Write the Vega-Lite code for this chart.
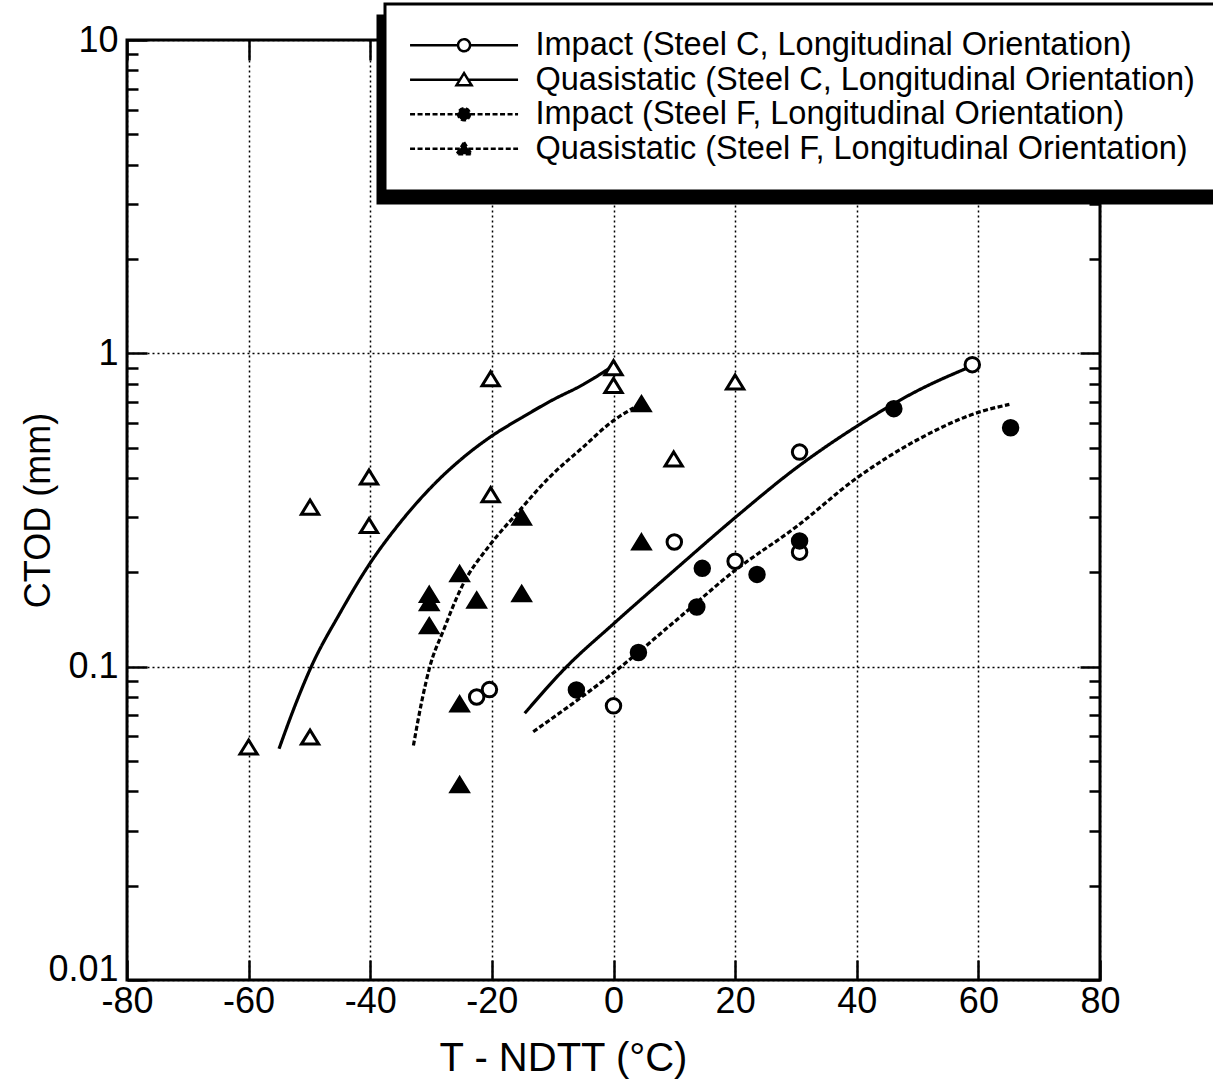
{
  "$schema": "https://vega.github.io/schema/vega-lite/v6.json",
  "width": 973,
  "height": 940,
  "autosize": {"type": "none"},
  "padding": {"left": 127, "top": 40, "right": 113, "bottom": 112},
  "background": "white",
  "config": {
    "view": {"stroke": "black", "strokeWidth": 3},
    "font": "Liberation Sans",
    "legend": {"strokeWidth": 3},
    "axis": {
      "labelFont": "Liberation Sans",
      "titleFont": "Liberation Sans",
      "labelColor": "black",
      "titleColor": "black",
      "tickColor": "black",
      "domain": false,
      "labelFlush": false,
      "labelOverlap": false,
      "titleFontWeight": "normal",
      "tickCap": "butt"
    }
  },
  "datasets": {
    "curves": [
      {"fit": "a", "T": -14.6, "CTOD": 0.071},
      {"fit": "a", "T": -7.7, "CTOD": 0.1},
      {"fit": "a", "T": 0, "CTOD": 0.137},
      {"fit": "a", "T": 10, "CTOD": 0.203},
      {"fit": "a", "T": 20, "CTOD": 0.299},
      {"fit": "a", "T": 30, "CTOD": 0.43},
      {"fit": "a", "T": 40, "CTOD": 0.585},
      {"fit": "a", "T": 50, "CTOD": 0.76},
      {"fit": "a", "T": 59.2, "CTOD": 0.915},
      {"fit": "b", "T": -55, "CTOD": 0.0547},
      {"fit": "b", "T": -52.5, "CTOD": 0.074},
      {"fit": "b", "T": -49.7, "CTOD": 0.1},
      {"fit": "b", "T": -45, "CTOD": 0.148},
      {"fit": "b", "T": -40.3, "CTOD": 0.21},
      {"fit": "b", "T": -35.1, "CTOD": 0.288},
      {"fit": "b", "T": -29.1, "CTOD": 0.389},
      {"fit": "b", "T": -25, "CTOD": 0.46},
      {"fit": "b", "T": -20.3, "CTOD": 0.54},
      {"fit": "b", "T": -15, "CTOD": 0.625},
      {"fit": "b", "T": -10, "CTOD": 0.71},
      {"fit": "b", "T": -5, "CTOD": 0.795},
      {"fit": "b", "T": -0.5, "CTOD": 0.90},
      {"fit": "c", "T": -13.2, "CTOD": 0.062},
      {"fit": "c", "T": -0.2, "CTOD": 0.095},
      {"fit": "c", "T": 10, "CTOD": 0.139},
      {"fit": "c", "T": 20, "CTOD": 0.203},
      {"fit": "c", "T": 30, "CTOD": 0.279},
      {"fit": "c", "T": 40, "CTOD": 0.40},
      {"fit": "c", "T": 50, "CTOD": 0.53},
      {"fit": "c", "T": 60.2, "CTOD": 0.65},
      {"fit": "c", "T": 65.1, "CTOD": 0.687},
      {"fit": "d", "T": -32.9, "CTOD": 0.056},
      {"fit": "d", "T": -31.5, "CTOD": 0.078},
      {"fit": "d", "T": -30.2, "CTOD": 0.1},
      {"fit": "d", "T": -28, "CTOD": 0.13},
      {"fit": "d", "T": -25, "CTOD": 0.179},
      {"fit": "d", "T": -20.3, "CTOD": 0.245},
      {"fit": "d", "T": -15.9, "CTOD": 0.308},
      {"fit": "d", "T": -10.5, "CTOD": 0.403},
      {"fit": "d", "T": -5, "CTOD": 0.502},
      {"fit": "d", "T": -0.3, "CTOD": 0.604},
      {"fit": "d", "T": 3.3, "CTOD": 0.67}
    ],
    "points": [
      {"series": "Quasistatic (Steel C, Longitudinal Orientation)", "T": -60, "CTOD": 0.0554},
      {"series": "Quasistatic (Steel C, Longitudinal Orientation)", "T": -49.9, "CTOD": 0.0596},
      {"series": "Quasistatic (Steel C, Longitudinal Orientation)", "T": -49.9, "CTOD": 0.323},
      {"series": "Quasistatic (Steel C, Longitudinal Orientation)", "T": -40.2, "CTOD": 0.403},
      {"series": "Quasistatic (Steel C, Longitudinal Orientation)", "T": -40.2, "CTOD": 0.282},
      {"series": "Quasistatic (Steel C, Longitudinal Orientation)", "T": -20.2, "CTOD": 0.83},
      {"series": "Quasistatic (Steel C, Longitudinal Orientation)", "T": -20.2, "CTOD": 0.354},
      {"series": "Quasistatic (Steel C, Longitudinal Orientation)", "T": 0, "CTOD": 0.90},
      {"series": "Quasistatic (Steel C, Longitudinal Orientation)", "T": 0, "CTOD": 0.79},
      {"series": "Quasistatic (Steel C, Longitudinal Orientation)", "T": 9.9, "CTOD": 0.46},
      {"series": "Quasistatic (Steel C, Longitudinal Orientation)", "T": 20, "CTOD": 0.81},
      {"series": "Quasistatic (Steel F, Longitudinal Orientation)", "T": -30.3, "CTOD": 0.17},
      {"series": "Quasistatic (Steel F, Longitudinal Orientation)", "T": -30.3, "CTOD": 0.16},
      {"series": "Quasistatic (Steel F, Longitudinal Orientation)", "T": -30.3, "CTOD": 0.135},
      {"series": "Quasistatic (Steel F, Longitudinal Orientation)", "T": -25.3, "CTOD": 0.198},
      {"series": "Quasistatic (Steel F, Longitudinal Orientation)", "T": -25.3, "CTOD": 0.076},
      {"series": "Quasistatic (Steel F, Longitudinal Orientation)", "T": -25.3, "CTOD": 0.042},
      {"series": "Quasistatic (Steel F, Longitudinal Orientation)", "T": -22.5, "CTOD": 0.163},
      {"series": "Quasistatic (Steel F, Longitudinal Orientation)", "T": -15.1, "CTOD": 0.30},
      {"series": "Quasistatic (Steel F, Longitudinal Orientation)", "T": -15.1, "CTOD": 0.171},
      {"series": "Quasistatic (Steel F, Longitudinal Orientation)", "T": 4.6, "CTOD": 0.69},
      {"series": "Quasistatic (Steel F, Longitudinal Orientation)", "T": 4.6, "CTOD": 0.25},
      {"series": "Impact (Steel C, Longitudinal Orientation)", "T": -22.5, "CTOD": 0.080},
      {"series": "Impact (Steel C, Longitudinal Orientation)", "T": -20.4, "CTOD": 0.0845},
      {"series": "Impact (Steel C, Longitudinal Orientation)", "T": 0, "CTOD": 0.075},
      {"series": "Impact (Steel C, Longitudinal Orientation)", "T": 10, "CTOD": 0.25},
      {"series": "Impact (Steel C, Longitudinal Orientation)", "T": 20, "CTOD": 0.217},
      {"series": "Impact (Steel C, Longitudinal Orientation)", "T": 30.6, "CTOD": 0.484},
      {"series": "Impact (Steel C, Longitudinal Orientation)", "T": 30.6, "CTOD": 0.232},
      {"series": "Impact (Steel C, Longitudinal Orientation)", "T": 59, "CTOD": 0.92},
      {"series": "Impact (Steel F, Longitudinal Orientation)", "T": -6.1, "CTOD": 0.0843},
      {"series": "Impact (Steel F, Longitudinal Orientation)", "T": 4.1, "CTOD": 0.111},
      {"series": "Impact (Steel F, Longitudinal Orientation)", "T": 13.7, "CTOD": 0.155},
      {"series": "Impact (Steel F, Longitudinal Orientation)", "T": 14.6, "CTOD": 0.206},
      {"series": "Impact (Steel F, Longitudinal Orientation)", "T": 23.6, "CTOD": 0.197},
      {"series": "Impact (Steel F, Longitudinal Orientation)", "T": 30.6, "CTOD": 0.252},
      {"series": "Impact (Steel F, Longitudinal Orientation)", "T": 46.1, "CTOD": 0.666},
      {"series": "Impact (Steel F, Longitudinal Orientation)", "T": 65.3, "CTOD": 0.579}
    ]
  },
  "layer": [
    {
      "data": {"name": "curves"},
      "mark": {"type": "line", "color": "black", "strokeWidth": 3.2, "interpolate": "monotone"},
      "encoding": {
        "x": {
          "field": "T", "type": "quantitative",
          "scale": {"domain": [-80, 80], "nice": false, "zero": false},
          "axis": {
            "orient": "bottom",
            "values": [-80, -60, -40, -20, 0, 20, 40, 60, 80],
            "labelExpr": "'' + datum.value",
            "title": "T - NDTT (°C)",
            "titleFontSize": 40,
            "titleX": 436,
            "titleY": 90,
            "titleBaseline": "alphabetic",
            "labelFontSize": 36,
            "labelPadding": 24,
            "tickSize": -20,
            "tickWidth": 2.5,
            "grid": true,
            "gridColor": "black",
            "gridDash": [2, 3],
            "gridWidth": 1.5
          }
        },
        "y": {
          "field": "CTOD", "type": "quantitative",
          "scale": {"type": "log", "domain": [0.01, 10], "nice": false},
          "axis": {
            "orient": "left",
            "values": [0.01, 0.02, 0.03, 0.04, 0.05, 0.06, 0.07, 0.08, 0.09, 0.1, 0.2, 0.3, 0.4, 0.5, 0.6, 0.7, 0.8, 0.9, 1, 2, 3, 4, 5, 6, 7, 8, 9, 10],
            "labelExpr": "datum.value == 10 ? '10' : datum.value == 1 ? '1' : datum.value == 0.1 ? '0.1' : datum.value == 0.01 ? '0.01' : ''",
            "title": "CTOD (mm)",
            "titleFontSize": 36,
            "titleX": -78,
            "titleY": 470,
            "titleBaseline": "alphabetic",
            "labelFontSize": 36,
            "labelPadding": 29,
            "labelBaseline": {"condition": {"test": "datum.value == 0.01", "value": "alphabetic"}, "value": "middle"},
            "tickSize": {"condition": {"test": "datum.value == 10 || datum.value == 1 || datum.value == 0.1 || datum.value == 0.01", "value": -20}, "value": -11},
            "tickWidth": 2.5,
            "grid": true,
            "gridColor": "black",
            "gridDash": [2, 3],
            "gridWidth": 1.5,
            "gridOpacity": {"condition": {"test": "datum.value == 10 || datum.value == 1 || datum.value == 0.1 || datum.value == 0.01", "value": 1}, "value": 0}
          }
        },
        "strokeDash": {
          "field": "fit", "type": "nominal",
          "scale": {"range": [[1, 0], [1, 0], [5, 2.5], [5, 2.5]]},
          "legend": {
            "orient": "none",
            "legendX": 258,
            "legendY": -36,
            "title": null,
            "padding": 25,
            "labelFont": "Liberation Sans",
            "labelFontSize": 32.5,
            "labelColor": "black",
            "labelOffset": 93,
            "labelLimit": 0,
            "labelExpr": "datum.value == 'a' ? 'Impact (Steel C, Longitudinal Orientation)' : datum.value == 'b' ? 'Quasistatic (Steel C, Longitudinal Orientation)' : datum.value == 'c' ? 'Impact (Steel F, Longitudinal Orientation)' : 'Quasistatic (Steel F, Longitudinal Orientation)'",
            "symbolSize": 144,
            "symbolStrokeWidth": 2.5,
            "symbolStrokeColor": "black",
            "symbolType": {"expr": "(datum.value == 'a' || datum.value == 'c') ? 'M-2.7,0H5.3M7.3,0H15.3M7.3,0A1,1,0,1,1,5.3,0A1,1,0,1,1,7.3,0Z' : 'M-2.7,0H5.6M7,0H15.3M6.3,-1.1L7.55,0.9L5.05,0.9Z'"},
            "symbolFillColor": {"expr": "(datum.value == 'c' || datum.value == 'd') ? 'black' : 'white'"},
            "rowPadding": 1.5,
            "fillColor": "white",
            "strokeColor": "black",
            "zindex": 2
          }
        }
      }
    },
    {
      "data": {"name": "points"},
      "mark": {"type": "point", "stroke": "black", "strokeWidth": 3, "size": 210, "opacity": 1},
      "encoding": {
        "x": {
          "field": "T", "type": "quantitative",
          "axis": {"orient": "top", "values": [-80, -60, -40, -20, 0, 20, 40, 60, 80], "labels": false, "title": null, "tickSize": -20, "tickWidth": 2.5, "grid": false}
        },
        "y": {
          "field": "CTOD", "type": "quantitative",
          "axis": {
            "orient": "right",
            "values": [0.01, 0.02, 0.03, 0.04, 0.05, 0.06, 0.07, 0.08, 0.09, 0.1, 0.2, 0.3, 0.4, 0.5, 0.6, 0.7, 0.8, 0.9, 1, 2, 3, 4, 5, 6, 7, 8, 9, 10],
            "labels": false,
            "title": null,
            "tickSize": {"condition": {"test": "datum.value == 10 || datum.value == 1 || datum.value == 0.1 || datum.value == 0.01", "value": -20}, "value": -11},
            "tickWidth": 2.5,
            "grid": false
          }
        },
        "shape": {
          "field": "series", "type": "nominal",
          "scale": {
            "domain": ["Impact (Steel C, Longitudinal Orientation)", "Quasistatic (Steel C, Longitudinal Orientation)", "Impact (Steel F, Longitudinal Orientation)", "Quasistatic (Steel F, Longitudinal Orientation)"],
            "range": ["circle", "M0,-0.97L1.19,0.97L-1.19,0.97Z", "circle", "M0,-0.97L1.19,0.97L-1.19,0.97Z"]
          },
          "legend": {
            "orient": "none",
            "legendX": 251,
            "legendY": -24,
            "title": null,
            "padding": 25,
            "labelFontSize": 32.5,
            "labelExpr": "''",
            "labelOffset": 752,
            "symbolSize": 144,
            "symbolStrokeWidth": 2,
            "symbolOpacity": 0,
            "rowPadding": 1.5,
            "fillColor": "black",
            "strokeColor": "black",
            "zindex": 1
          }
        },
        "fill": {
          "field": "series", "type": "nominal",
          "scale": {
            "domain": ["Impact (Steel C, Longitudinal Orientation)", "Quasistatic (Steel C, Longitudinal Orientation)", "Impact (Steel F, Longitudinal Orientation)", "Quasistatic (Steel F, Longitudinal Orientation)"],
            "range": ["white", "white", "black", "black"]
          },
          "legend": null
        }
      }
    }
  ],
  "resolve": {"axis": {"x": "independent", "y": "independent"}}
}
